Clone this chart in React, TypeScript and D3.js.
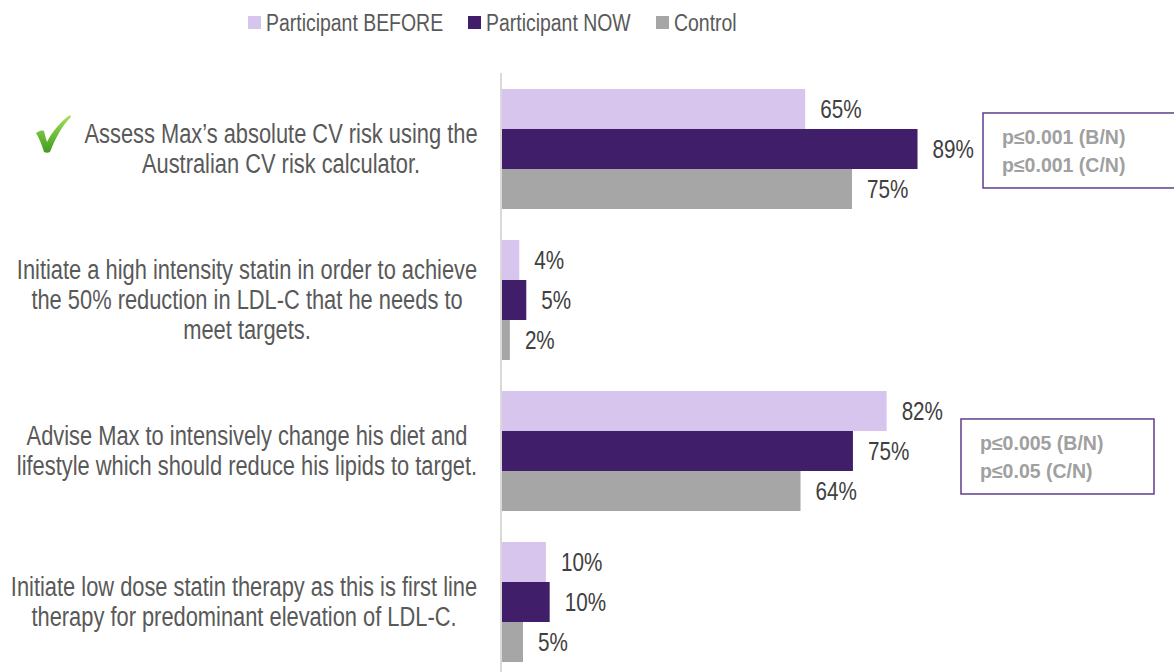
import { useEffect, useRef } from "react";
import * as d3 from "d3";

const categories = [
  ["Assess Max\u2019s absolute CV risk using the", "Australian CV risk calculator."],
  [
    "Initiate a high intensity statin in order to achieve",
    "the 50% reduction in LDL-C that he needs to",
    "meet targets.",
  ],
  ["Advise Max to intensively change his diet and", "lifestyle which should reduce his lipids to target."],
  ["Initiate low dose statin therapy as this is first line", "therapy for predominant elevation of LDL-C."],
];

const seriesNames = ["Participant BEFORE", "Participant NOW", "Control"];
const beforeValues = [65, 3.9, 82.4, 9.6];
const nowValues = [89, 5.4, 75.2, 10.4];
const controlValues = [75, 1.9, 64, 4.7];

// p-value notes: [category index, lines]
const pNotes: [number, string[]][] = [
  [0, ["p\u22640.001 (B/N)", "p\u22640.001 (C/N)"]],
  [2, ["p\u22640.005 (B/N)", "p\u22640.05 (C/N)"]],
];

const COLORS = ["#D8C5EE", "#411E69", "#A6A6A6"];
const SANS = "'Liberation Sans', Arial, sans-serif";
const NARROW_SCALE = 0.81; // Liberation Sans squeezed to look like Arial Narrow
const WIDTH = 1174;
const HEIGHT = 672;

type Sel = d3.Selection<SVGSVGElement, unknown, null, undefined>;

// adds a narrow-looking text line anchored at (x, y)
function narrowText(
  svg: Sel,
  x: number,
  y: number,
  txt: string,
  size: number,
  fill: string,
  anchor = "start"
) {
  svg
    .append("g")
    .attr("transform", `translate(${x},${y}) scale(${NARROW_SCALE},1)`)
    .append("text")
    .attr("text-anchor", anchor)
    .attr("dy", "0.35em")
    .style("font-family", SANS)
    .style("font-size", `${size}px`)
    .style("fill", fill)
    .text(txt);
}

export default function App() {
  const ref = useRef<SVGSVGElement>(null);

  useEffect(() => {
    if (!ref.current) return;
    const svg = d3.select(ref.current) as Sel;
    svg.selectAll("*").remove();

    const series = [beforeValues, nowValues, controlValues];

    const x = d3.scaleLinear().domain([0, 100]).range([501, 969]);
    const y = d3
      .scaleBand<number>()
      .domain(d3.range(categories.length))
      .range([73.5, 677.5])
      .paddingInner(0.205)
      .paddingOuter(0.1025);
    const yInner = d3
      .scaleBand<number>()
      .domain(d3.range(series.length))
      .range([0, y.bandwidth()]);

    // axis line
    svg
      .append("line")
      .attr("x1", x(0))
      .attr("x2", x(0))
      .attr("y1", 73)
      .attr("y2", HEIGHT)
      .attr("stroke", "#D9D9D9")
      .attr("stroke-width", 2);

    const fmt = d3.format(".0f");

    series.forEach((vals, si) => {
      svg
        .append("g")
        .selectAll("rect")
        .data(vals)
        .enter()
        .append("rect")
        .attr("x", x(0) + 1)
        .attr("y", (_, i) => (y(i) ?? 0) + (yInner(si) ?? 0))
        .attr("width", (d) => x(d) - x(0) - 1)
        .attr("height", yInner.bandwidth())
        .attr("fill", COLORS[si]);

      vals.forEach((d, i) => {
        const cy = (y(i) ?? 0) + (yInner(si) ?? 0) + yInner.bandwidth() / 2;
        narrowText(svg, x(d) + 15, cy, fmt(d) + "%", 25.5, "#404040");
      });
    });

    // category labels
    const centers = [281, 247, 247, 244];
    categories.forEach((lines, i) => {
      const cy = (y(i) ?? 0) + y.bandwidth() / 2;
      lines.forEach((line, li) => {
        narrowText(
          svg,
          centers[i],
          cy + (li - (lines.length - 1) / 2) * 30,
          line,
          27,
          "#595959",
          "middle"
        );
      });
    });

    // green check mark for first item
    const defs = svg.append("defs");
    const grad = defs
      .append("linearGradient")
      .attr("id", "checkGrad")
      .attr("x1", "0")
      .attr("y1", "0")
      .attr("x2", "0")
      .attr("y2", "1");
    grad.append("stop").attr("offset", "0").attr("stop-color", "#A6E05A");
    grad.append("stop").attr("offset", "1").attr("stop-color", "#3E9B1C");
    const c0 = (y(0) ?? 0) + y.bandwidth() / 2;
    svg
      .append("path")
      .attr("transform", `translate(35, ${c0 - 34})`)
      .attr(
        "d",
        "M1,18 C4,16 7,15 9,16 C10,20 11,24 12,27 C17,17 25,7 35,0 C36,1 36,2 35,3 C27,11 20,24 15,37 C13,38 11,38 9,37 C7,30 4,23 1,18 Z"
      )
      .attr("fill", "url(#checkGrad)");

    // p-value boxes
    const boxes = [
      { x: 983, w: 200, dy: 24 },
      { x: 961, w: 193, dy: 28 },
    ];
    pNotes.forEach(([ci, lines], k) => {
      const top = (y(ci) ?? 0) + boxes[k].dy;
      svg
        .append("rect")
        .attr("x", boxes[k].x)
        .attr("y", top)
        .attr("width", boxes[k].w)
        .attr("height", 75)
        .attr("fill", "white")
        .attr("stroke", "#5E3F8C")
        .attr("stroke-width", 1.5);
      lines.forEach((line, li) => {
        svg
          .append("text")
          .attr("x", boxes[k].x + 19)
          .attr("y", top + 24 + li * 28)
          .attr("dy", "0.35em")
          .style("font-family", SANS)
          .style("font-size", "19.5px")
          .style("font-weight", "bold")
          .style("fill", "#A0A0A0")
          .text(line);
      });
    });

    // legend
    const legendX = [248, 468, 656];
    seriesNames.forEach((name, i) => {
      svg
        .append("rect")
        .attr("x", legendX[i])
        .attr("y", 16)
        .attr("width", 13)
        .attr("height", 13)
        .attr("fill", COLORS[i]);
      narrowText(svg, legendX[i] + 18, 22.5, name, 24, "#595959");
    });
  }, []);

  return (
    <svg
      ref={ref}
      width={WIDTH}
      height={HEIGHT}
      style={{ position: "absolute", left: 0, top: 0, background: "white" }}
    />
  );
}
